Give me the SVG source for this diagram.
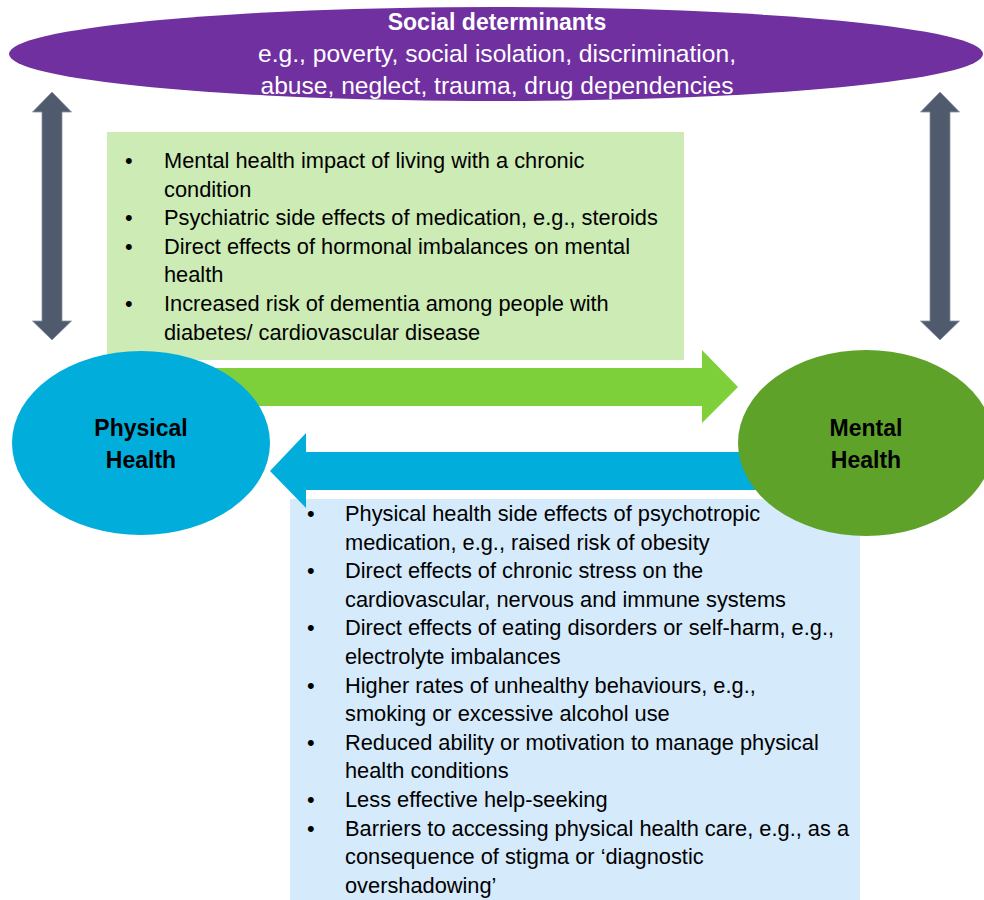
<svg xmlns="http://www.w3.org/2000/svg" width="984" height="900" viewBox="0 0 984 900">
<style>
.t{font-family:"Liberation Sans",Arial,sans-serif;font-size:21.8px;fill:#000}
.w{font-family:"Liberation Sans",Arial,sans-serif;fill:#fff}
.b{font-family:"Liberation Sans",Arial,sans-serif;font-size:23px;font-weight:bold;fill:#000;text-anchor:middle}
.va{fill:#4F5B6D;stroke:#8A93A3;stroke-width:0.8}
</style>
<rect width="984" height="900" fill="#fff"/>
<g id="box-physical-to-mental">
<rect x="107" y="132" width="577" height="228" fill="#CDEBB5"/>
<g class="t">
<text x="125" y="168">•</text><text x="164" y="168">Mental health impact of living with a chronic</text>
<text x="164" y="196.6">condition</text>
<text x="125" y="225.2">•</text><text x="164" y="225.2">Psychiatric side effects of medication, e.g., steroids</text>
<text x="125" y="253.8">•</text><text x="164" y="253.8">Direct effects of hormonal imbalances on mental</text>
<text x="164" y="282.4">health</text>
<text x="125" y="311">•</text><text x="164" y="311">Increased risk of dementia among people with</text>
<text x="164" y="339.6">diabetes/ cardiovascular disease</text>
</g>
</g>
<g id="box-mental-to-physical">
<rect x="290" y="499" width="570" height="401" fill="#D5EAFB"/>
<g class="t">
<text x="307" y="521">•</text><text x="345" y="521">Physical health side effects of psychotropic</text>
<text x="345" y="549.6">medication, e.g., raised risk of obesity</text>
<text x="307" y="578.2">•</text><text x="345" y="578.2">Direct effects of chronic stress on the</text>
<text x="345" y="606.8">cardiovascular, nervous and immune systems</text>
<text x="307" y="635.4">•</text><text x="345" y="635.4">Direct effects of eating disorders or self-harm, e.g.,</text>
<text x="345" y="664">electrolyte imbalances</text>
<text x="307" y="692.6">•</text><text x="345" y="692.6">Higher rates of unhealthy behaviours, e.g.,</text>
<text x="345" y="721.2">smoking or excessive alcohol use</text>
<text x="307" y="749.8">•</text><text x="345" y="749.8">Reduced ability or motivation to manage physical</text>
<text x="345" y="778.4">health conditions</text>
<text x="307" y="807">•</text><text x="345" y="807">Less effective help-seeking</text>
<text x="307" y="835.6">•</text><text x="345" y="835.6">Barriers to accessing physical health care, e.g., as a</text>
<text x="345" y="864.2">consequence of stigma or ‘diagnostic</text>
<text x="345" y="892.8">overshadowing’</text>
</g>
</g>
<g id="connectors">
<polygon class="va" points="52,92 71.5,112 62,112 62,321 71.5,321 52,340 32.5,321 42,321 42,112 32.5,112"/>
<polygon class="va" points="940,92 959.5,112 950,112 950,321 959.5,321 940,340 920.5,321 930,321 930,112 920.5,112"/>
<polygon fill="#7ED03B" points="200,368 702,368 702,350 738,387 702,423 702,406 200,406"/>
<polygon fill="#00ADDB" points="800,452 306,452 306,433 270,471 306,508 306,490 800,490"/>
</g>
<g id="social-determinants">
<ellipse cx="496" cy="54" rx="487" ry="47" fill="#7030A0"/>
<text class="w" x="497" y="30" text-anchor="middle" font-size="23" font-weight="bold">Social determinants</text>
<text class="w" x="497" y="62" text-anchor="middle" font-size="24.6">e.g., poverty, social isolation, discrimination,</text>
<text class="w" x="497" y="94" text-anchor="middle" font-size="24.6">abuse, neglect, trauma, drug dependencies</text>
</g>
<g id="physical-health">
<ellipse cx="141" cy="443" rx="129" ry="92" fill="#00ADDB"/>
<text class="b" x="141" y="436">Physical</text>
<text class="b" x="141" y="468">Health</text>
</g>
<g id="mental-health">
<ellipse cx="866" cy="443" rx="128" ry="93" fill="#5FA22A"/>
<text class="b" x="866" y="436">Mental</text>
<text class="b" x="866" y="468">Health</text>
</g>
</svg>
